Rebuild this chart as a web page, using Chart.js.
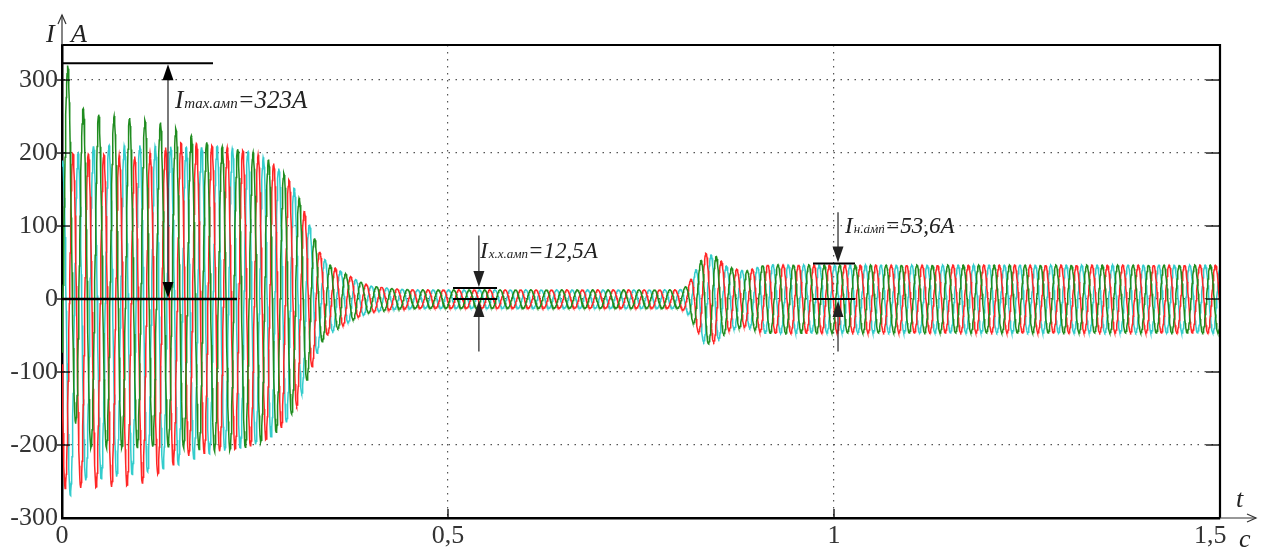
<!DOCTYPE html>
<html>
<head>
<meta charset="utf-8">
<script src="https://cdn.jsdelivr.net/npm/chart.js@4.4.1/dist/chart.umd.min.js"></script>
<style>
html,body{margin:0;padding:0;background:#fff;}
#wrap{width:1261px;height:549px;position:relative;}
</style>
</head>
<body>
<div id="wrap"><canvas id="c" width="1261" height="549"></canvas></div>
<script>
// ---- tick labels ----
const xTicks = [0, 0.5, 1, 1.5];
const xTickLabels = ['0', '0,5', '1', '1,5   '];
const yTicks = [-300, -200, -100, 0, 100, 200, 300];
const yTickLabels = ['-300', '-200', '-100', '0', '100', '200', '300'];

// ---- series (three phase currents, 50 Hz) ----
const seriesNames = ['Фаза A', 'Фаза B', 'Фаза C'];
const freqHz = 50;
// time of first positive peak of each phase, s
const firstPeakTime = [0.0075, 0.01417, 0.02083];
// amplitude envelope (t in s, A in A)
const envTime = [0, 0.06, 0.10, 0.14, 0.18, 0.22, 0.25, 0.27, 0.29, 0.305, 0.315, 0.325, 0.335, 0.345, 0.365, 0.385, 0.40, 0.43, 0.46, 0.80, 0.81, 0.82, 0.833, 0.848, 0.862, 0.885, 0.91, 0.94, 1.0, 1.5];
const envAmp  = [230, 228, 225, 220, 212, 207, 200, 190, 170, 145, 118, 90, 62, 48, 36, 24, 18, 14, 12.5, 12.5, 18, 38, 63, 58, 44, 38, 47, 47, 46.5, 46.5];
// aperiodic (DC) offsets of each phase at start
const greenOffTime = [0, 0.0075, 0.017, 0.03, 0.13, 0.2, 1.5];
const greenOff     = [90, 90, 60, 25, 20, 0, 0];
const redOffTime   = [0, 0.1, 0.16, 1.5];
const redOff       = [-30, -30, 0, 0];
const cyanOffTime  = [0, 0.011, 0.03, 0.15, 0.2, 1.5];
const cyanOff      = [-40, -40, -20, -10, 0, 0];
const sampleStep = 0.0005;
const tEnd = 1.5;

// annotation values
const annMaxValue = 323;
const annIdleValue = 12.5;
const annNomValue = 53.6;

// ---- styles ----
const seriesColors = ['#1f8c1f', '#ff2626', '#33cccc'];

function lerp(ts, vs, t) {
  if (t <= ts[0]) return vs[0];
  for (let i = 1; i < ts.length; i++) {
    if (t <= ts[i]) {
      const f = (t - ts[i - 1]) / (ts[i] - ts[i - 1]);
      return vs[i - 1] + f * (vs[i] - vs[i - 1]);
    }
  }
  return vs[vs.length - 1];
}
const offsets = [[greenOffTime, greenOff], [redOffTime, redOff], [cyanOffTime, cyanOff]];
function buildSeries(k) {
  const pts = [];
  const n = Math.round(tEnd / sampleStep);
  for (let i = 0; i <= n; i++) {
    const t = i * sampleStep;
    const a = lerp(envTime, envAmp, t);
    const y = a * Math.cos(2 * Math.PI * freqHz * (t - firstPeakTime[k])) + lerp(offsets[k][0], offsets[k][1], t);
    pts.push({x: t, y: y});
  }
  return pts;
}

const datasets = [0, 1, 2].map(k => ({
  label: seriesNames[k],
  data: buildSeries(k),
  borderColor: seriesColors[k],
  borderWidth: 1.5,
  pointRadius: 0,
  tension: 0,
  fill: false
}));

const SERIF = "'Liberation Serif', 'Times New Roman', serif";

const decor = {
  id: 'decor',
  afterDraw(chart) {
    const ctx = chart.ctx;
    const xs = chart.scales.x, ys = chart.scales.y;
    const sx = v => xs.getPixelForValue(v);
    const sy = v => ys.getPixelForValue(v);
    const L = chart.chartArea.left, R = chart.chartArea.right, T = chart.chartArea.top, B = chart.chartArea.bottom;
    ctx.save();
    ctx.strokeStyle = '#000';
    ctx.fillStyle = '#000';
    ctx.setLineDash([]);
    // frame
    ctx.lineWidth = 2;
    ctx.beginPath(); ctx.moveTo(L, T); ctx.lineTo(R, T); ctx.stroke();
    ctx.lineWidth = 2.2;
    ctx.beginPath(); ctx.moveTo(R, T - 1); ctx.lineTo(R, B); ctx.stroke();
    // axis extensions with arrows
    ctx.lineWidth = 1.2;
    ctx.strokeStyle = '#333';
    ctx.beginPath(); ctx.moveTo(L, T); ctx.lineTo(L, 15); ctx.stroke();
    ctx.beginPath(); ctx.moveTo(L - 4, 24); ctx.lineTo(L, 15); ctx.lineTo(L + 4, 24); ctx.stroke();
    ctx.beginPath(); ctx.moveTo(R, B); ctx.lineTo(1256, B); ctx.stroke();
    ctx.beginPath(); ctx.moveTo(1247, B - 4); ctx.lineTo(1256, B); ctx.lineTo(1247, B + 4); ctx.stroke();
    // tick marks
    ctx.strokeStyle = '#000';
    ctx.lineWidth = 1.3;
    yTicks.forEach(v => {
      if (v === -300) return;
      const y = sy(v);
      ctx.beginPath(); ctx.moveTo(L - 5, y); ctx.lineTo(L + 8, y); ctx.stroke();
      ctx.beginPath(); ctx.moveTo(R - 14, y); ctx.lineTo(R, y); ctx.stroke();
    });
    xTicks.forEach(v => {
      if (v === 0 || v === 1.5) return;
      const x = sx(v);
      ctx.beginPath(); ctx.moveTo(x, B - 9); ctx.lineTo(x, B); ctx.stroke();
    });
    // axis letters
    ctx.fillStyle = '#222';
    ctx.font = 'italic 26px ' + SERIF;
    ctx.textBaseline = 'alphabetic';
    ctx.textAlign = 'left';
    ctx.fillText('I', 46, 42);
    ctx.fillText('A', 71, 42);
    ctx.fillText('t', 1236, 507);
    ctx.fillText('c', 1239, 547);

    // helpers
    function hline(v, x0, x1, w) {
      ctx.lineWidth = w; ctx.beginPath(); ctx.moveTo(sx(x0), sy(v)); ctx.lineTo(sx(x1), sy(v)); ctx.stroke();
    }
    function vline(x, y0, y1, w) {
      ctx.lineWidth = w; ctx.beginPath(); ctx.moveTo(x, y0); ctx.lineTo(x, y1); ctx.stroke();
    }
    function head(x, tipY, dir) { // dir -1 = pointing up, +1 = pointing down
      const h = 16, w = 5.5;
      ctx.beginPath();
      ctx.moveTo(x, tipY);
      ctx.lineTo(x - w, tipY - dir * h);
      ctx.lineTo(x + w, tipY - dir * h);
      ctx.closePath();
      ctx.fill();
    }
    function label(x, baseY, sub, rest, big, small) {
      ctx.fillStyle = '#222';
      ctx.font = 'italic ' + big + 'px ' + SERIF;
      ctx.fillText('I', x, baseY);
      let cx = x + ctx.measureText('I').width + 1;
      ctx.font = 'italic ' + small + 'px ' + SERIF;
      ctx.fillText(sub, cx, baseY);
      cx += ctx.measureText(sub).width;
      ctx.font = 'italic ' + big + 'px ' + SERIF;
      ctx.fillText(rest, cx, baseY);
    }
    ctx.strokeStyle = '#000';
    ctx.fillStyle = '#000';

    // annotation 1: I max
    hline(annMaxValue, 0, 0.1956, 2);
    hline(0, 0, 0.2267, 2.5);
    const x1 = sx(0.1373);
    ctx.strokeStyle = '#333';
    vline(x1, sy(annMaxValue) + 10, sy(0) - 10, 1.3);
    head(x1, sy(annMaxValue) + 1, -1);
    head(x1, sy(0) - 1, 1);
    label(sx(0.1464), sy(262), 'max.амп', '=323А', 25, 15);

    // annotation 2: I idle
    ctx.strokeStyle = '#000';
    hline(15, 0.5065, 0.5635, 2);
    hline(0, 0.5065, 0.5635, 2);
    const x2 = sx(0.540);
    ctx.strokeStyle = '#333';
    vline(x2, sy(87), sy(15) - 8, 1.3);
    head(x2, sy(15) - 1, 1);
    vline(x2, sy(0) + 10, sy(-72), 1.3);
    head(x2, sy(0) + 2, -1);
    label(sx(0.5415), sy(56), 'х.х.амп', '=12,5А', 23, 13);

    // annotation 3: I nominal
    ctx.strokeStyle = '#000';
    hline(48.5, 0.9728, 1.0272, 2);
    hline(0, 0.9728, 1.0272, 2);
    const x3 = sx(1.0052);
    ctx.strokeStyle = '#333';
    vline(x3, sy(119), sy(48.5) - 8, 1.3);
    head(x3, sy(48.5) - 1, 1);
    vline(x3, sy(0) + 10, sy(-72), 1.3);
    head(x3, sy(0) + 2, -1);
    label(sx(1.0143), sy(90), 'н.амп', '=53,6А', 23, 13);

    ctx.restore();
  }
};

new Chart(document.getElementById('c'), {
  type: 'line',
  data: {datasets: datasets},
  plugins: [decor],
  options: {
    responsive: false,
    animation: false,
    events: [],
    parsing: false,
    normalized: true,
    layout: {padding: {top: 45, right: 41, left: 0, bottom: 0}},
    plugins: {legend: {display: false}, tooltip: {enabled: false}},
    scales: {
      x: {
        type: 'linear',
        min: 0, max: 1.5,
        afterBuildTicks: s => { s.ticks = xTicks.map(v => ({value: v})); },
        afterFit: s => { s.height = 31; },
        ticks: {
          autoSkip: false, maxRotation: 0, padding: 3,
          color: '#333',
          font: {family: SERIF, size: 26},
          callback: v => xTickLabels[xTicks.indexOf(v)]
        },
        grid: {
          drawTicks: false,
          lineWidth: 1.2,
          color: c => (c.tick && (c.tick.value === 0 || c.tick.value === 1.5)) ? 'rgba(0,0,0,0)' : '#555'
        },
        border: {display: true, color: '#000', width: 2.5, dash: [1.5, 5.5]}
      },
      y: {
        type: 'linear',
        min: -300, max: 348,
        afterBuildTicks: s => { s.ticks = yTicks.map(v => ({value: v})); },
        afterFit: s => { s.width = 62; },
        ticks: {
          padding: 4,
          color: '#333',
          font: {family: SERIF, size: 26},
          callback: v => yTickLabels[yTicks.indexOf(v)]
        },
        grid: {
          drawTicks: false,
          lineWidth: 1.2,
          color: c => (c.tick && c.tick.value === -300) ? 'rgba(0,0,0,0)' : '#555'
        },
        border: {display: true, color: '#000', width: 2.5, dash: [1.5, 5.5]}
      }
    }
  }
});
</script>
</body>
</html>
